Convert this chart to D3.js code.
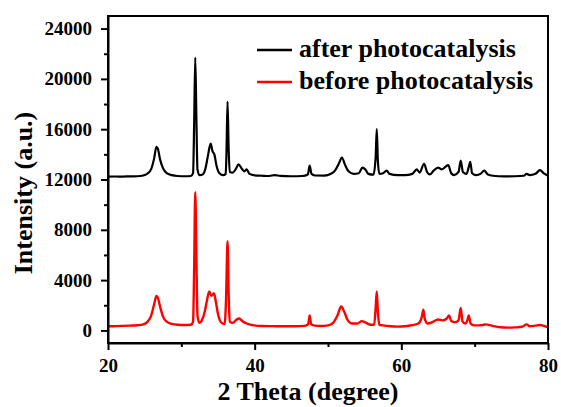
<!DOCTYPE html>
<html>
<head>
<meta charset="utf-8">
<script src="https://cdn.jsdelivr.net/npm/d3@7"></script>
<style>
  body { margin: 0; background: #fff; }
  svg text { font-family: "Liberation Serif", "Times New Roman", Times, "DejaVu Serif", serif !important; font-weight: bold; fill: #000; }
</style>
</head>
<body>
<div id="main"><div class="container"></div></div>
<script>
// [2 theta, intensity]
var afterPattern = [
  [20, 12230], [21, 12240], [22, 12230], [23, 12250], [24, 12260], [24.8, 12320], [25.4, 12480],
  [25.9, 12850], [26.3, 13700], [26.6, 14600], [26.8, 14450], [27.1, 13600], [27.5, 12900],
  [28.0, 12500], [28.7, 12350], [29.5, 12280], [30.5, 12260], [31.3, 12280], [31.6, 12500],
  [31.75, 16500], [31.9, 21700], [32.05, 17000], [32.2, 12800], [32.5, 12350], [32.9, 12400],
  [33.3, 12900], [33.6, 13800], [34.0, 14850], [34.25, 14250], [34.5, 14000], [34.8, 13100],
  [35.2, 12500], [35.7, 12350], [36.05, 12450], [36.15, 14000], [36.3, 18200], [36.45, 14500],
  [36.6, 12600], [37.0, 12550], [37.4, 12800], [37.8, 13200], [38.2, 12900], [38.6, 12650],
  [38.9, 12800], [39.3, 12450], [40.0, 12330], [41, 12300], [42, 12280], [42.7, 12350],
  [43.5, 12290], [45, 12260], [46.5, 12280], [47.25, 12400], [47.5, 13100], [47.75, 12450],
  [48.3, 12320], [49.5, 12310], [50.4, 12450], [51.0, 12750], [51.5, 13300], [51.9, 13750],
  [52.3, 13200], [52.8, 12650], [53.5, 12450], [54.2, 12500], [54.7, 12950], [55.1, 12800],
  [55.5, 12450], [56.2, 12380], [56.5, 13800], [56.65, 16000], [56.8, 13500], [57.0, 12450],
  [57.5, 12500], [58.0, 12700], [58.4, 12450], [59.5, 12350], [60.5, 12350], [61.5, 12450],
  [62.1, 12800], [62.5, 12550], [63.1, 13250], [63.5, 12600], [63.9, 12400], [64.4, 12700],
  [65.0, 12950], [65.5, 12800], [66.0, 13000], [66.4, 13150], [66.8, 12500], [67.2, 12350],
  [67.8, 12600], [68.1, 13500], [68.4, 12600], [68.9, 12450], [69.2, 13000], [69.4, 13400],
  [69.65, 12500], [70.2, 12350], [70.8, 12450], [71.3, 12700], [71.8, 12400], [72.5, 12300],
  [74, 12250], [75.5, 12260], [76.7, 12300], [77.1, 12450], [77.5, 12350], [78.3, 12450],
  [78.9, 12750], [79.4, 12500], [80, 12300]
];

var beforePattern = [
  [20, 330], [21, 340], [22, 360], [23, 380], [24, 410], [24.8, 480], [25.4, 700], [25.9, 1200],
  [26.3, 2100], [26.6, 2750], [26.8, 2600], [27.1, 1900], [27.5, 1100], [28.0, 700], [28.7, 520],
  [29.5, 450], [30.5, 430], [31.3, 450], [31.6, 700], [31.75, 5000], [31.9, 11000], [32.05, 6000],
  [32.2, 1200], [32.45, 600], [32.8, 800], [33.2, 1500], [33.5, 2400], [33.8, 3100], [34.1, 2750],
  [34.45, 2950], [34.7, 2300], [35.0, 1300], [35.4, 650], [35.9, 500], [36.1, 2500], [36.3, 7100],
  [36.45, 3000], [36.6, 700], [37.0, 600], [37.5, 850], [37.9, 950], [38.3, 750], [38.9, 550],
  [39.7, 420], [41, 350], [42.5, 340], [44, 330], [45.5, 330], [46.8, 360], [47.3, 500],
  [47.5, 1200], [47.7, 500], [48.2, 380], [49, 350], [50, 400], [50.7, 600], [51.3, 1200],
  [51.8, 1900], [52.2, 1500], [52.7, 800], [53.3, 550], [54.0, 550], [54.6, 740], [55.2, 600],
  [55.8, 450], [56.3, 450], [56.5, 1800], [56.65, 3100], [56.8, 1500], [57.0, 450], [57.5, 400],
  [58.5, 330], [59.5, 300], [60.5, 330], [61.5, 420], [62.3, 550], [62.8, 1100], [63.0, 1650],
  [63.2, 900], [63.6, 550], [64.2, 650], [65.0, 870], [65.6, 800], [66.2, 950], [66.5, 1200],
  [66.8, 750], [67.3, 650], [67.8, 800], [68.1, 1780], [68.35, 700], [68.7, 550], [69.0, 800],
  [69.2, 1200], [69.45, 550], [70.0, 400], [71.0, 420], [71.5, 480], [72.3, 380], [73.5, 250],
  [74.5, 220], [75.5, 240], [76.5, 300], [77.1, 480], [77.5, 330], [78.3, 380], [78.9, 430],
  [79.5, 350], [80, 260]
];

var xTicks = [20, 40, 60, 80];
var xMinorTicks = [30, 50, 70];
var yTicks = [0, 4000, 8000, 12000, 16000, 20000, 24000];
var yMinorTicks = [2000, 6000, 10000, 14000, 18000, 22000];
var seriesNames = ["after photocatalysis", "before photocatalysis"];
var seriesColors = ["#000000", "#ff0000"];

var serif = "'Liberation Serif', 'Times New Roman', Times, 'DejaVu Serif', serif";

d3.select('#main').select('.container')
    .append('svg')
    .attr('id', 'chart')
    .attr('width', 561)
    .attr('height', 407);

var svg = d3.select("svg"),
    margin = {top: 16, right: 13, bottom: 64, left: 108},
    width = +svg.attr("width") - margin.left - margin.right,
    height = +svg.attr("height") - margin.top - margin.bottom,
    g = svg.append("g").attr("transform", "translate(" + margin.left + "," + margin.top + ")");

var x = d3.scaleLinear().domain([20, 80]).range([0, width]);
var y = d3.scaleLinear().domain([-1000, 25000]).range([height, 0]);

var line = d3.line()
    .curve(d3.curveMonotoneX)
    .x(function(d) { return x(d[0]); })
    .y(function(d) { return y(d[1]); });

// clip so the traces stay in the frame
svg.append("defs").append("clipPath").attr("id", "plot")
    .append("rect").attr("width", width).attr("height", height);

var traces = g.append("g").attr("clip-path", "url(#plot)");

traces.append("path")
    .datum(beforePattern)
    .attr("fill", "none")
    .attr("stroke", seriesColors[1])
    .attr("stroke-width", 2.4)
    .attr("stroke-linejoin", "round")
    .attr("d", line);

traces.append("path")
    .datum(afterPattern)
    .attr("fill", "none")
    .attr("stroke", seriesColors[0])
    .attr("stroke-width", 2.2)
    .attr("stroke-linejoin", "round")
    .attr("d", line);

// axes
g.append("g")
    .attr("transform", "translate(0," + height + ")")
    .call(d3.axisBottom(x).tickValues(xTicks).tickSize(7).tickSizeOuter(0).tickPadding(9).tickFormat(d3.format("d")));

g.append("g")
    .attr("transform", "translate(0," + height + ")")
    .call(d3.axisBottom(x).tickValues(xMinorTicks).tickSize(4).tickFormat(""))
    .select(".domain").remove();

g.append("g")
    .call(d3.axisLeft(y).tickValues(yTicks).tickSize(7).tickSizeOuter(0).tickPadding(9).tickFormat(d3.format("d")));

g.append("g")
    .call(d3.axisLeft(y).tickValues(yMinorTicks).tickSize(4).tickFormat(""))
    .select(".domain").remove();

g.selectAll(".tick line").attr("stroke", "#000").attr("stroke-width", 2);
g.selectAll(".domain").attr("stroke", "#000").attr("stroke-width", 2);
g.selectAll("g").attr("font-family", serif);
g.selectAll(".tick text")
    .attr("font-family", serif)
    .attr("font-weight", "bold")
    .style("font-size", "19px");

// frame
g.append("rect")
    .attr("width", width)
    .attr("height", height)
    .attr("fill", "none")
    .attr("stroke", "#000")
    .attr("stroke-width", 2);

// titles
g.append("text")
    .attr("x", width / 2 - 20)
    .attr("y", height + 57)
    .attr("text-anchor", "middle")
    .attr("font-family", serif)
    .style("font-size", "26px")
    .text("2 Theta (degree)");

svg.append("text")
    .attr("transform", "translate(32," + 193 + ") rotate(-90)")
    .attr("text-anchor", "middle")
    .attr("font-family", serif)
    .style("font-size", "26px")
    .text("Intensity (a.u.)");

// legend
var legend = g.selectAll(".legend")
    .data(seriesNames)
    .enter().append("g")
    .attr("class", "legend")
    .attr("transform", function(d, i) { return "translate(149," + (34 + i * 32) + ")"; });

legend.append("line")
    .attr("x1", 0).attr("x2", 35)
    .attr("stroke", function(d, i) { return seriesColors[i]; })
    .attr("stroke-width", 2.4);

legend.append("text")
    .attr("x", 42)
    .attr("y", 7)
    .attr("font-family", serif)
    .style("font-size", "26px")
    .text(function(d) { return d; });
</script>
</body>
</html>
